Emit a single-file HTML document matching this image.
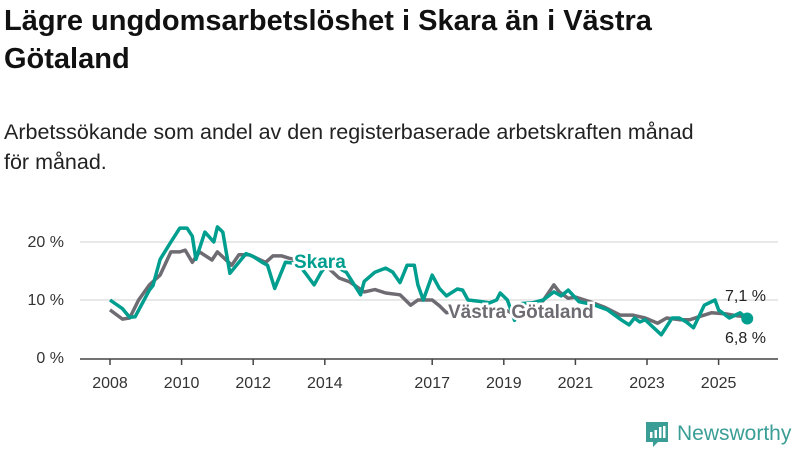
<!DOCTYPE html>
<html><head><meta charset="utf-8">
<style>
body{margin:0;background:#fff;width:800px;height:450px;overflow:hidden;font-family:"Liberation Sans",sans-serif;color:#111}
h1{position:absolute;left:4px;top:2px;margin:0;font-size:29px;line-height:38px;font-weight:bold;width:740px}
p{position:absolute;left:4px;top:117px;margin:0;font-size:21.5px;line-height:30px;color:#222;width:690px}
svg{position:absolute;left:0;top:0}
</style></head><body>
<h1>Lägre ungdomsarbetslöshet i Skara än i Västra Götaland</h1>
<p>Arbetssökande som andel av den registerbaserade arbetskraften månad<br>för månad.</p>
<svg id="chart" width="800" height="450"></svg>
<script>
const yTicks=[0,10,20];
const xTicks=[2008,2010,2012,2014,2017,2019,2021,2023,2025];
const skaraDates=[2008,2008.35,2008.55,2008.7,2009.1,2009.2,2009.4,2009.7,2009.95,2010.15,2010.3,2010.4,2010.65,2010.9,2011.0,2011.15,2011.35,2011.8,2012.0,2012.25,2012.4,2012.6,2012.9,2013.25,2013.5,2013.7,2013.9,2014.1,2014.6,2015.0,2015.1,2015.4,2015.7,2015.9,2016.1,2016.3,2016.5,2016.6,2016.75,2017.0,2017.2,2017.4,2017.7,2017.85,2018.0,2018.3,2018.6,2018.8,2018.9,2019.1,2019.3,2019.5,2019.8,2020.1,2020.4,2020.6,2020.8,2021.1,2021.5,2021.9,2022.3,2022.5,2022.65,2022.8,2022.95,2023.1,2023.4,2023.7,2023.9,2024.1,2024.3,2024.6,2024.9,2025.0,2025.3,2025.6,2025.8];
const skaraVals=[10,8.5,7,7.1,11.7,12.5,17,20,22.4,22.4,21,17,21.7,20,22.6,21.7,14.6,18,17.5,16.5,16,12,16.5,16.3,14.3,12.6,14.8,16.5,14.8,10.9,13.2,14.8,15.5,14.8,13,16,16,12.6,10,14.3,12,10.7,11.9,11.7,10,9.8,9.5,10,11.2,10,6.5,9.4,9.5,10,11.4,10.7,11.7,9.7,9.2,8.3,6.5,5.7,6.9,6.2,6.6,5.7,4,6.9,6.9,6.2,5.2,9.1,10,8.3,6.9,7.8,6.8];
const vgDates=[2008,2008.35,2008.55,2008.8,2009.1,2009.4,2009.7,2009.95,2010.1,2010.3,2010.5,2010.85,2011.0,2011.4,2011.6,2011.9,2012.2,2012.35,2012.55,2012.8,2013.0,2013.3,2013.7,2014.1,2014.4,2014.7,2015.1,2015.4,2015.7,2016.1,2016.4,2016.6,2017.0,2017.2,2017.4,2017.8,2018.2,2018.6,2019.0,2019.3,2019.6,2020.0,2020.4,2020.55,2020.8,2021.0,2021.4,2021.8,2022.25,2022.6,2022.95,2023.3,2023.55,2023.9,2024.2,2024.5,2024.8,2025.2,2025.5,2025.8];
const vgVals=[8.3,6.7,6.9,10,12.6,14.3,18.3,18.3,18.6,16.5,18.3,16.9,18.3,16,17.8,17.8,16.9,16.5,17.6,17.6,17.2,16.8,16.2,15.5,13.8,13.1,11.4,11.8,11.2,10.9,9.1,10,10,9,7.8,8.3,8.5,8.6,8.4,7.5,8,9,12.6,11.4,10.3,10.5,9.7,8.8,7.4,7.4,6.9,6,6.9,6.6,6.6,7.2,7.8,7.6,7.3,7.1];
const NS="http://www.w3.org/2000/svg";
const svg=document.getElementById('chart');
const X=d=>110+(d-2008)*35.8;
const Y=v=>358-v*5.8;
function mk(t,a,p){const e=document.createElementNS(NS,t);for(const k in a)e.setAttribute(k,a[k]);(p||svg).appendChild(e);return e;}
yTicks.forEach(v=>{
 if(v>0){const g=mk('line',{x1:80,x2:778,y1:Y(v),y2:Y(v),stroke:'#e0e0e0','stroke-width':1.5});
 
 }
 const t=mk('text',{x:64,y:Y(v)+5,'text-anchor':'end','font-size':16,fill:'#333','font-family':'Liberation Sans'});
 t.textContent=v+' %';
 
 
});
const ax=mk('line',{x1:80,x2:778,y1:359,y2:359,stroke:'#444','stroke-width':1.5});


xTicks.forEach(y=>{
 mk('line',{x1:X(y),x2:X(y),y1:359,y2:365,stroke:'#444','stroke-width':1.5});
 const t=mk('text',{x:X(y),y:388,'text-anchor':'middle','font-size':16,fill:'#333','font-family':'Liberation Sans'});
 t.textContent=y;
 
 
});
function line(d,v,c,name){
 const p=mk('path',{d:d.map((x,i)=>(i?'L':'M')+X(x).toFixed(1)+','+Y(v[i]).toFixed(1)).join(''),fill:'none',stroke:c,'stroke-width':3.5,'stroke-linejoin':'round'});
 
 
}
line(vgDates,vgVals,'#6e6c72','series-vastra-gotaland');
line(skaraDates,skaraVals,'#009e8f','series-skara');
const dot=mk('circle',{cx:X(skaraDates[skaraDates.length-1]),cy:Y(skaraVals[skaraVals.length-1]),r:6,fill:'#009e8f'});


function lab(x,y,txt,c,name,sz,bold){
 const t=mk('text',{x:x,y:y,'font-size':sz,fill:c,'font-weight':bold?'bold':'normal','font-family':'Liberation Sans',stroke:'#fff','stroke-width':bold?5:0,'paint-order':'stroke'});
 t.textContent=txt;
 
 
}
lab(294,268,'Skara','#009e8f','skara-label',19,true);
lab(448,318,'Västra Götaland','#6e6c72','vastra-gotaland-label',19,true);
lab(725,301,'7,1 %','#222','vg-end-value',16,false);
lab(725,343,'6,8 %','#222','skara-end-value',16,false);
const lg=mk('g',{});


mk('path',{d:'M646,422h22v20h-10l-5,5v-5h-7z',fill:'#3a9e96'},lg);
mk('rect',{x:650,y:432,width:2.5,height:6,fill:'#fff'},lg);
mk('rect',{x:654.5,y:430,width:2.5,height:8,fill:'#fff'},lg);
mk('rect',{x:659,y:427,width:2.5,height:11,fill:'#fff'},lg);
mk('rect',{x:663,y:426,width:2.5,height:12,fill:'#fff'},lg);
const lt=mk('text',{x:677,y:440,'font-size':21,fill:'#3a9e96','font-family':'Liberation Sans'},lg);
lt.textContent='Newsworthy';
</script>
</body></html>
